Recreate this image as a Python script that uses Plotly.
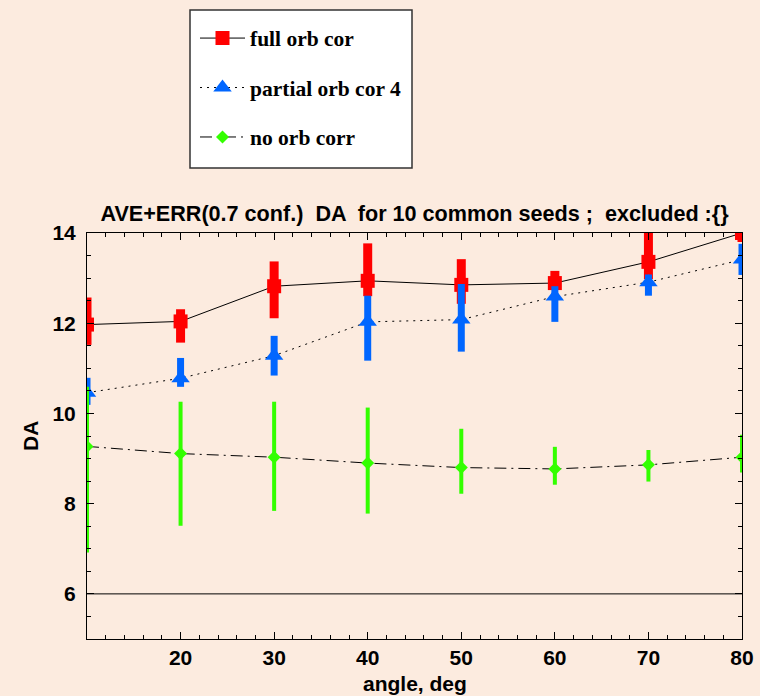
import plotly.graph_objects as go

# ---- data ----
angles = [10, 20, 30, 40, 50, 60, 70, 80]

full_ave = [11.97, 12.04, 12.82, 12.94, 12.85, 12.89, 13.36, 14.00]
full_hi = [12.57, 12.31, 13.37, 13.77, 13.42, 13.16, 14.20, 14.20]
full_lo = [11.52, 11.57, 12.11, 12.60, 12.43, 12.74, 12.98, 13.80]

part_ave = [10.46, 10.78, 11.28, 12.03, 12.08, 12.59, 12.91, 13.41]
part_hi = [10.79, 11.23, 11.72, 12.61, 12.87, 12.82, 13.08, 13.76]
part_lo = [10.19, 10.59, 10.84, 11.17, 11.37, 12.03, 12.61, 13.07]

no_ave = [9.27, 9.11, 9.03, 8.90, 8.80, 8.77, 8.86, 9.03]
no_hi = [10.59, 10.26, 10.26, 10.13, 9.66, 9.26, 9.19, 9.53]
no_lo = [6.92, 7.51, 7.84, 7.78, 8.22, 8.42, 8.49, 8.69]

x_ticks = [20, 30, 40, 50, 60, 70, 80]
y_ticks = [6, 8, 10, 12, 14]
ref_level = 6

names = ["full orb cor", "partial orb cor 4", "no orb corr"]
title_text = "AVE+ERR(0.7 conf.) \u00a0DA \u00a0for 10 common seeds ; \u00a0excluded :{}"
x_title = "angle, deg"
y_title = "DA"

BG = "#FCEBDF"
RED = "#FF0000"
BLUE = "#0066FF"
GREEN = "#33FF00"

W, H = 760, 696
L, T = 87, 233
PW, PH = 655, 406


def err(ave, hi, lo):
    return (dict(type="data", symmetric=False,
                 array=[h - a for h, a in zip(hi, ave)],
                 arrayminus=[a - l for a, l in zip(ave, lo)]))


fig = go.Figure()

series = [
    (names[0], full_ave, full_hi, full_lo, RED, "square", 14, "solid", 9),
    (names[1], part_ave, part_hi, part_lo, BLUE, "triangle-up", 16, "2px,5px", 7),
    (names[2], no_ave, no_hi, no_lo, GREEN, "diamond", 10, "12px,5px,2px,5px", 4),
]

for i, (nm, ave, hi, lo, col, sym, sz, dash, th) in enumerate(series):
    e = err(ave, hi, lo)
    e.update(color=col, thickness=th, width=0)
    fig.add_trace(go.Scatter(
        x=angles, y=ave, name=nm, mode="lines+markers",
        line=dict(color="black", width=1, dash=dash),
        marker=dict(color=col, symbol=sym, size=sz, line=dict(width=0)),
        error_y=e, legendgroup=f"g{i}",
    ))

# horizontal reference line at DA = 6
fig.add_shape(type="line", xref="paper", x0=0, x1=1, yref="y",
              y0=ref_level, y1=ref_level, line=dict(color="black", width=1))

# legend box
fig.add_shape(type="rect", xref="paper", yref="paper",
              x0=(190 - L) / PW, x1=(412 - L) / PW,
              y0=(T + PH - 168) / PH, y1=(T + PH - 10) / PH,
              fillcolor="white", line=dict(color="#333333", width=1.5),
              layer="above")

axis_font = dict(family="Liberation Sans, Arial, sans-serif", size=21,
                 color="black", weight="bold")

# axis titles
fig.add_annotation(text=y_title, xref="paper", yref="paper",
                   x=(30 - L) / PW, y=0.5, xanchor="center", yanchor="middle",
                   textangle=-90, showarrow=False, font=axis_font)
fig.add_annotation(text=x_title, xref="paper", yref="paper",
                   x=0.5, y=(T + PH - 683) / PH, xanchor="center", yanchor="middle",
                   showarrow=False, font=axis_font)

fig.update_layout(
    width=W, height=H,
    margin=dict(l=L, r=W - L - PW, t=T, b=H - T - PH, autoexpand=False),
    paper_bgcolor=BG, plot_bgcolor=BG,
    showlegend=True,
    legend=dict(
        xref="container", yref="container",
        x=195 / W, y=1 - 17.6 / H, xanchor="left", yanchor="top",
        bgcolor="rgba(0,0,0,0)", borderwidth=0, tracegroupgap=18.5,
        itemwidth=45,
        font=dict(family="Liberation Serif, Times New Roman, serif", size=21.5,
                  color="black", weight="bold"),
    ),
    title=dict(text=title_text, x=0.5, xref="paper", xanchor="center",
               y=1 - 213 / H, yref="container", yanchor="middle",
               font=dict(family="Liberation Sans, Arial, sans-serif", size=21.6,
                         color="black", weight="bold")),
    xaxis=dict(
        range=[10, 80], tickmode="array", tickvals=x_ticks,
        ticks="inside", ticklen=7, tickcolor="black", tickwidth=1,
        showline=True, linecolor="black", linewidth=1, mirror="ticks",
        showgrid=False, zeroline=False,
        tickfont=axis_font,
        minor=dict(dtick=2, tick0=0, ticks="inside", ticklen=4,
                   tickcolor="black", showgrid=False),
    ),
    yaxis=dict(
        range=[5, 14], tickmode="array", tickvals=y_ticks,
        ticks="inside", ticklen=7, tickcolor="black", tickwidth=1,
        showline=True, linecolor="black", linewidth=1, mirror="ticks",
        showgrid=False, zeroline=False, ticklabelstandoff=6,
        tickfont=axis_font,
        minor=dict(dtick=0.5, tick0=0, ticks="inside", ticklen=4,
                   tickcolor="black", showgrid=False),
    ),
)

fig.write_html("out.html", config={"displayModeBar": False},
               post_script="document.body.style.margin='0px';"
                           "document.body.style.background='" + BG + "';")
